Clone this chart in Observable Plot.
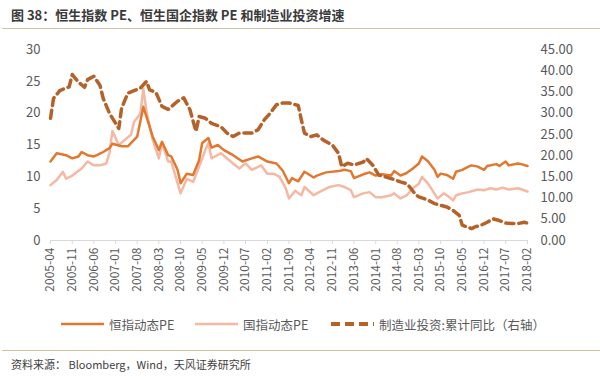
<!DOCTYPE html>
<html>
<head>
<meta charset="utf-8">
<script src="https://cdn.jsdelivr.net/npm/d3@7"></script>
<script src="https://cdn.jsdelivr.net/npm/@observablehq/plot@0.6"></script>
<style>
  html, body { margin: 0; padding: 0; background: #fff; }
  body { width: 600px; height: 377px; position: relative; overflow: hidden; font-family: "Noto Sans CJK SC", "Noto Sans", sans-serif; }
  #title { position: absolute; left: 11px; top: 5px; font-size: 13px; font-weight: bold; color: #3a3a3a; white-space: nowrap; }
  .rule { position: absolute; left: 2px; width: 598px; height: 1px; background: #cfc29f; }
  #chart { position: absolute; left: 0; top: 30px; }
  #legend { position: absolute; top: 314px; left: 0; width: 600px; height: 20px; }
  #legend .item { position: absolute; top: 0; display: flex; align-items: center; font-size: 12.5px; color: #595959; white-space: nowrap; height: 20px; }
  #legend svg { margin-right: 5px; }
  #source { position: absolute; left: 11px; top: 356px; font-size: 11px; color: #404040; white-space: nowrap; }
</style>
</head>
<body>
<div id="title">图 38：恒生指数 PE、恒生国企指数 PE 和制造业投资增速</div>
<div class="rule" style="top:28px"></div>
<div id="chart"></div>
<div id="legend"></div>
<div class="rule" style="top:350px"></div>
<div id="source">资料来源： Bloomberg，Wind，天风证券研究所</div>
<script>
// ---- Data ----
const seriesNames = ["恒指动态PE", "国指动态PE", "制造业投资:累计同比（右轴）"];

const hsDates = ["2005-04","2005-06","2005-09","2005-11","2006-01","2006-02","2006-04","2006-06","2006-07","2006-09","2006-11","2006-12","2007-03","2007-05","2007-07","2007-08","2007-10","2007-12","2008-01","2008-03","2008-04","2008-06","2008-07","2008-09","2008-10","2008-12","2009-02","2009-04","2009-05","2009-07","2009-08","2009-10","2009-12","2010-03","2010-06","2010-09","2010-11","2011-02","2011-05","2011-07","2011-09","2011-10","2011-12","2012-02","2012-05","2012-06","2012-09","2013-01","2013-03","2013-05","2013-06","2013-09","2013-11","2014-01","2014-03","2014-06","2014-07","2014-09","2014-11","2015-01","2015-03","2015-04","2015-06","2015-08","2015-09","2015-10","2015-12","2016-02","2016-03","2016-05","2016-07","2016-08","2016-10","2016-12","2017-01","2017-04","2017-05","2017-07","2017-08","2017-11","2017-12","2018-02"];
const hsPE = [12.4,13.7,13.4,12.9,13.2,13.9,13.4,13.2,13.4,13.9,14.5,15.2,14.8,14.8,15.8,16.3,21.0,17.9,16.3,14.2,15.5,13.4,13.2,11.1,9.0,10.5,10.3,12.6,15.3,16.1,14.6,15.0,14.2,13.4,12.4,12.9,13.2,12.4,12.1,11.0,9.0,9.8,9.3,10.8,9.9,10.2,10.7,10.9,11.1,10.9,9.8,10.4,10.7,10.2,10.4,10.2,10.9,10.2,10.6,11.3,12.1,13.2,12.4,11.1,10.0,10.5,10.3,9.7,10.8,11.1,11.6,11.8,11.6,11.1,11.7,12.0,11.7,12.4,11.8,12.1,12.0,11.7];

const hhDates = ["2005-04","2005-06","2005-08","2005-09","2005-11","2006-02","2006-04","2006-06","2006-08","2006-10","2006-11","2006-12","2007-02","2007-04","2007-06","2007-07","2007-09","2007-10","2007-11","2008-01","2008-03","2008-04","2008-06","2008-07","2008-10","2008-12","2009-02","2009-04","2009-06","2009-07","2009-08","2009-11","2010-03","2010-05","2010-07","2010-09","2010-12","2011-02","2011-04","2011-06","2011-08","2011-09","2011-11","2012-01","2012-02","2012-05","2012-06","2012-08","2012-10","2013-01","2013-03","2013-05","2013-06","2013-09","2013-11","2014-01","2014-03","2014-06","2014-07","2014-09","2014-11","2015-01","2015-03","2015-04","2015-06","2015-08","2015-09","2015-11","2015-12","2016-02","2016-03","2016-05","2016-07","2016-10","2016-12","2017-02","2017-04","2017-06","2017-08","2017-11","2018-02"];
const hhPE = [8.7,9.5,10.8,9.7,10.2,11.3,12.4,11.8,11.8,12.1,13.7,17.2,15.0,15.8,16.6,18.6,19.9,23.8,20.2,15.8,12.9,15.3,12.4,12.4,7.4,9.7,9.2,11.6,14.2,15.3,12.9,13.7,12.1,11.3,12.1,11.1,11.8,10.5,10.5,10.0,8.2,6.6,7.8,7.1,8.4,7.1,7.4,7.9,8.4,8.7,8.4,7.9,6.8,7.4,7.6,6.8,6.8,7.1,7.4,6.6,7.1,8.2,8.9,10.0,8.9,7.4,6.6,7.4,7.1,6.3,7.1,7.4,7.6,8.0,7.9,8.2,8.0,8.3,8.0,8.2,7.7];

const mfgDates = ["2005-04","2005-05","2005-07","2005-10","2005-11","2006-01","2006-03","2006-04","2006-06","2006-08","2006-09","2006-11","2007-02","2007-03","2007-05","2007-07","2007-09","2007-11","2007-12","2008-02","2008-04","2008-06","2008-09","2008-11","2009-01","2009-03","2009-04","2009-06","2009-08","2009-11","2010-01","2010-03","2010-05","2010-09","2010-11","2011-01","2011-03","2011-05","2011-07","2011-09","2011-11","2011-12","2012-01","2012-02","2012-04","2012-06","2012-08","2012-11","2013-01","2013-02","2013-04","2013-06","2013-09","2013-10","2013-12","2014-02","2014-04","2014-06","2014-09","2014-11","2014-12","2015-02","2015-03","2015-06","2015-08","2015-10","2015-12","2016-02","2016-04","2016-05","2016-08","2016-09","2016-11","2017-01","2017-03","2017-05","2017-07","2017-09","2017-11","2018-01","2018-02"];
const mfgYoY = [28.8,33.5,35.3,36.2,39.1,37.3,36.1,37.9,38.7,36.5,33.5,30.0,26.4,31.2,34.7,35.3,35.9,37.5,35.5,34.9,31.6,30.9,32.8,33.6,30.8,25.7,29.2,28.8,27.6,26.8,25.3,24.5,25.3,25.3,26.1,28.4,30.0,32.0,32.4,32.4,32.0,31.8,28.4,25.3,24.5,24.9,23.7,22.5,20.5,17.4,18.2,17.8,18.5,19.3,17.8,15.4,15.0,14.6,13.8,13.4,12.6,10.7,10.3,9.5,8.7,8.3,7.9,7.1,5.9,3.6,2.8,3.2,3.6,4.3,5.1,4.7,4.1,4.0,4.0,4.3,4.1];

const xTickLabels = ["2005-04","2005-11","2006-06","2007-01","2007-08","2008-03","2008-10","2009-05","2009-12","2010-07","2011-02","2011-09","2012-04","2012-11","2013-06","2014-01","2014-08","2015-03","2015-10","2016-05","2016-12","2017-07","2018-02"];
const leftTicks = [0, 5, 10, 15, 20, 25, 30];
const rightTicks = [0, 5, 10, 15, 20, 25, 30, 35, 40, 45];
const rightMax = 45, leftMax = 30;

// ---- Build ----
const parse = d3.utcParse("%Y-%m");
const fmt = d3.utcFormat("%Y-%m");
const colors = ["#E2782F", "#F4B8A3", "#B4622A"];
const ratio = rightMax / leftMax;

const hsData = hsDates.map((d, i) => ({date: parse(d), v: hsPE[i]}));
const hhData = hhDates.map((d, i) => ({date: parse(d), v: hhPE[i]}));
const mfgData = mfgDates.map((d, i) => ({date: parse(d), v: mfgYoY[i] / ratio}));

const chart = Plot.plot({
  width: 600,
  height: 275,
  marginTop: 19,
  marginBottom: 65,
  marginLeft: 50,
  marginRight: 73,
  style: {fontFamily: '"Noto Sans CJK SC", "Noto Sans", sans-serif', color: "#595959", background: "transparent"},
  x: {type: "utc", domain: [parse(xTickLabels[0]), parse(xTickLabels[xTickLabels.length - 1])]},
  y: {domain: [0, leftMax]},
  marks: [
    Plot.axisY({ticks: leftTicks, tickSize: 0, tickPadding: 10, fontSize: 13, label: null}),
    Plot.axisY({anchor: "right", ticks: rightTicks.map(r => r / ratio), tickSize: 0, tickPadding: 13, fontSize: 13, label: null,
      tickFormat: d => (d * ratio).toFixed(2)}),
    Plot.ruleY([0], {stroke: "#d9d9d9", strokeWidth: 1}),
    Plot.axisX({ticks: xTickLabels.map(parse), tickFormat: fmt, tickRotate: -90, tickSize: 4, tickPadding: 3,
      fontSize: 12, stroke: "#d9d9d9", label: null}),
    Plot.line(hhData, {x: "date", y: "v", stroke: colors[1], strokeWidth: 2.5}),
    Plot.line(hsData, {x: "date", y: "v", stroke: colors[0], strokeWidth: 2.5}),
    Plot.line(mfgData, {x: "date", y: "v", stroke: colors[2], strokeWidth: 3.5, strokeDasharray: "8,5"})
  ]
});
document.getElementById("chart").appendChild(chart);

// ---- Legend ----
const legend = document.getElementById("legend");
const lefts = [61, 195, 331];
const dashes = [null, null, "9,5"];
const widths = [2.5, 2.5, 4];
seriesNames.forEach((name, i) => {
  const item = document.createElement("div");
  item.className = "item";
  item.style.left = lefts[i] + "px";
  item.innerHTML = `<svg width="43" height="10"><line x1="0" x2="43" y1="5" y2="5" stroke="${colors[i]}" stroke-width="${widths[i]}" ${dashes[i] ? `stroke-dasharray="${dashes[i]}"` : ""}/></svg><span>${name}</span>`;
  legend.appendChild(item);
});
</script>
</body>
</html>
